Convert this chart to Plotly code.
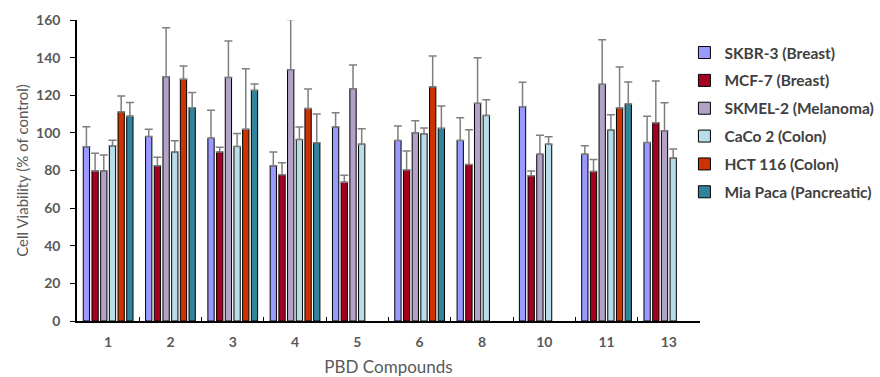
import plotly.graph_objects as go

compounds = ["1", "2", "3", "4", "5", "6", "8", "10", "11", "13"]

skbr3 = [92.6, 98.1, 97.2, 82.5, 103.1, 96.0, 96.0, 113.9, 88.7, 94.9]
skbr3_err = [10.6, 3.8, 14.8, 7.3, 7.6, 7.6, 12.1, 13.0, 4.4, 14.0]

mcf7 = [79.8, 82.5, 89.8, 77.7, 73.8, 80.2, 83.2, 77.2, 79.5, 105.4]
mcf7_err = [9.4, 4.5, 2.6, 6.4, 3.7, 10.1, 18.5, 2.6, 6.4, 22.2]

skmel2 = [79.8, 129.9, 129.5, 133.6, 123.5, 100.1, 115.7, 88.7, 125.8, 101.1]
skmel2_err = [8.4, 26.0, 19.4, 26.6, 12.6, 6.3, 24.3, 10.1, 23.7, 14.9]

caco2 = [93.1, 89.8, 92.8, 96.5, 94.0, 99.5, 109.3, 94.0, 101.5, 86.6]
caco2_err = [3.0, 6.0, 6.9, 6.6, 8.2, 3.1, 8.3, 3.9, 8.1, 4.8]

hct116 = [111.1, 128.5, 101.9, 113.0, None, 124.4, None, None, 113.2, None]
hct116_err = [8.5, 7.0, 32.2, 10.3, None, 16.5, None, None, 21.8, None]

miapaca = [108.9, 113.4, 122.6, 94.7, None, 102.4, None, None, 115.3, None]
miapaca_err = [7.3, 8.1, 3.4, 15.3, None, 11.9, None, None, 11.7, None]

series_names = ["SKBR-3 (Breast)", "MCF-7 (Breast)", "SKMEL-2 (Melanoma)",
                "CaCo 2 (Colon)", "HCT 116 (Colon)", "Mia Paca (Pancreatic)"]
series_values = [skbr3, mcf7, skmel2, caco2, hct116, miapaca]
series_errors = [skbr3_err, mcf7_err, skmel2_err, caco2_err, hct116_err, miapaca_err]
series_colors = ["#9999FF", "#A50021", "#B3A2C7", "#B7DEE8", "#CC3300", "#31849B"]

FONT = "Lato, 'Open Sans', sans-serif"
TXT = "#595959"

fig = go.Figure()
for i, (name, vals, errs, col) in enumerate(zip(series_names, series_values, series_errors, series_colors)):
    fig.add_trace(go.Bar(
        x=compounds, y=vals, name=name, legendgroup=f"g{i}",
        marker=dict(color=col, line=dict(color="#000000", width=1)),
        error_y=dict(type="data", array=errs, symmetric=False,
                     arrayminus=[0] * len(errs),
                     color="#7F7F7F", thickness=1.5, width=4),
    ))

fig.update_layout(
    width=880, height=377,
    margin=dict(l=77, r=180, t=20, b=56, autoexpand=False),
    paper_bgcolor="white", plot_bgcolor="white",
    barmode="group", bargap=0.163, bargroupgap=0.276,
    font=dict(family=FONT, color=TXT),
    showlegend=True,
    legend=dict(x=0.975, xanchor="left", y=0.947, yanchor="top",
                traceorder="grouped", tracegroupgap=4.7,
                font=dict(family=FONT, size=15.5, color="#404040", weight="bold"),
                bgcolor="rgba(0,0,0,0)"),
    xaxis=dict(type="category", showline=True, linecolor="#000000", linewidth=1.5,
               ticks="inside", tickson="boundaries", ticklen=4, tickcolor="#000000",
               tickfont=dict(family=FONT, size=14, color=TXT, weight="bold"),
               ticklabelstandoff=7,
               title=dict(text="PBD Compounds", font=dict(family=FONT, size=17, color=TXT),
                          standoff=14),
               showgrid=False, automargin=False),
    yaxis=dict(range=[0, 160], dtick=20, showline=True, linecolor="#000000", linewidth=1.5,
               ticks="outside", ticklen=5, tickcolor="#000000",
               tickfont=dict(family=FONT, size=14, color=TXT, weight="bold"),
               ticklabelstandoff=7,
               title=dict(text="Cell Viability (% of control)",
                          font=dict(family=FONT, size=15, color=TXT), standoff=4),
               showgrid=False, zeroline=False, automargin=False),
)

fig.write_html("out.html", config={"displayModeBar": False},
               post_script="document.body.style.margin='0';document.body.style.overflow='hidden';")
